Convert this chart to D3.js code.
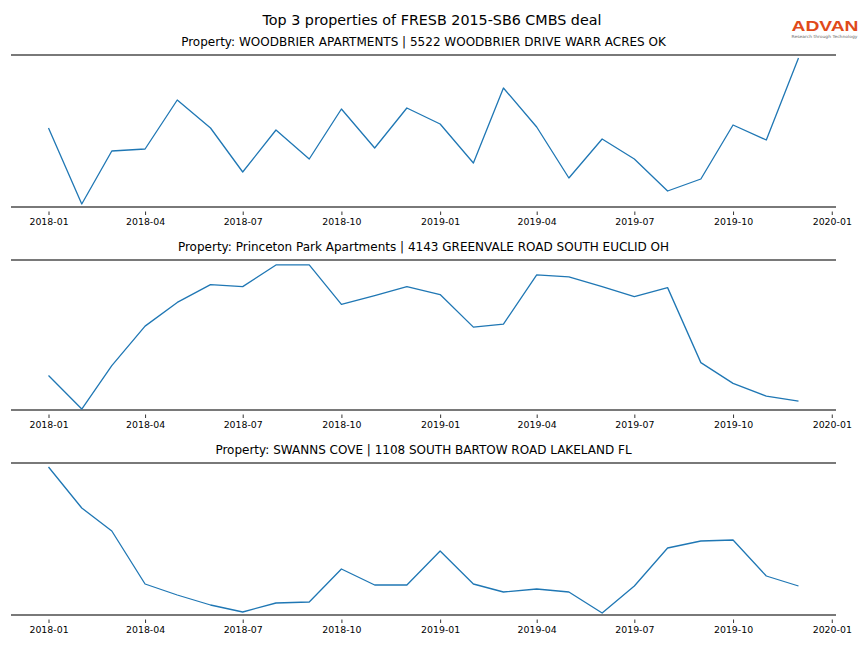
<!DOCTYPE html>
<html>
<head>
<meta charset="utf-8">
<script src="https://cdn.jsdelivr.net/npm/d3@7"></script>
<style>
  html, body { margin: 0; padding: 0; background: #fff; }
  svg { display: block; font-family: "DejaVu Sans", sans-serif; }
</style>
</head>
<body>
<svg id="chart" width="864" height="648"></svg>
<script>
const chartTitle = "Top 3 properties of FRESB 2015-SB6 CMBS deal";
const months = ["2018-01","2018-02","2018-03","2018-04","2018-05","2018-06","2018-07","2018-08","2018-09","2018-10","2018-11","2018-12",
                "2019-01","2019-02","2019-03","2019-04","2019-05","2019-06","2019-07","2019-08","2019-09","2019-10","2019-11","2019-12"];
const propertyNames = [
  "Property: WOODBRIER APARTMENTS | 5522 WOODBRIER DRIVE WARR ACRES OK",
  "Property: Princeton Park Apartments | 4143 GREENVALE ROAD SOUTH EUCLID OH",
  "Property: SWANNS COVE | 1108 SOUTH BARTOW ROAD LAKELAND FL"
];
const woodbrier = [79, 3, 56, 58, 107, 79, 35, 77, 48, 98, 59, 99, 83, 44, 119, 80, 29, 68, 48, 16, 28, 82, 67, 149];
const princeton = [35, 1, 45, 85, 109, 127, 125, 147, 147, 107, 116, 125, 117, 84, 87, 137, 135, 125, 115, 124, 48, 27, 14, 9];
const swanns = [148, 107, 84, 31, 20, 10, 3, 12, 13, 46, 30, 30, 64, 31, 23, 26, 23, 2, 29, 67, 74, 75, 39, 29];
const tickLabels = ["2018-01","2018-04","2018-07","2018-10","2019-01","2019-04","2019-07","2019-10","2020-01"];

const seriesList = [woodbrier, princeton, swanns];
const parse = d3.timeParse("%Y-%m");
const svg = d3.select("#chart");

const left = 11, right = 836;
const panels = [{top: 55, bottom: 207}, {top: 260, bottom: 410}, {top: 463, bottom: 615}];

// x domain with 5% margins like matplotlib
const d0 = parse(months[0]), d1 = parse(months[months.length - 1]);
const span = d1 - d0;
const x = d3.scaleTime()
  .domain([new Date(+d0 - span * 0.05), new Date(+d1 + span * 0.05)])
  .range([left, right]);

svg.append("text")
  .attr("x", 432).attr("y", 24.5)
  .attr("text-anchor", "middle")
  .attr("font-size", 14.3)
  .attr("fill", "#000")
  .text(chartTitle);

// logo
const logo = svg.append("g");
logo.append("text")
  .attr("x", 825).attr("y", 31)
  .attr("text-anchor", "middle")
  .attr("font-size", 15.5)
  .attr("font-weight", "bold")
  .attr("font-family", "Liberation Sans, Arial, sans-serif")
  .attr("fill", "#e04a1a")
  .attr("textLength", 67)
  .attr("lengthAdjust", "spacingAndGlyphs")
  .text("ADVAN");
logo.append("text")
  .attr("x", 824.5).attr("y", 38.3)
  .attr("text-anchor", "middle")
  .attr("font-size", 4.2)
  .attr("fill", "#666")
  .attr("textLength", 66)
  .attr("lengthAdjust", "spacingAndGlyphs")
  .text("Research through Technology");

seriesList.forEach((vals, i) => {
  const p = panels[i];
  const g = svg.append("g");
  const y = d3.scaleLinear().domain([0, 152]).range([p.bottom, p.top]);

  g.append("text")
    .attr("x", (left + right) / 2).attr("y", p.top - 9)
    .attr("text-anchor", "middle")
    .attr("font-size", 12)
    .attr("fill", "#000")
    .text(propertyNames[i]);

  // spines
  g.append("line").attr("x1", left).attr("x2", right).attr("y1", p.top).attr("y2", p.top)
    .attr("stroke", "#4d4d4d").attr("stroke-width", 1.6);
  g.append("line").attr("x1", left).attr("x2", right).attr("y1", p.bottom).attr("y2", p.bottom)
    .attr("stroke", "#4d4d4d").attr("stroke-width", 1.6);

  // x axis
  const axis = d3.axisBottom(x)
    .tickValues(tickLabels.map(parse))
    .tickFormat(d3.timeFormat("%Y-%m"))
    .tickSize(3.5)
    .tickPadding(3);
  const ag = g.append("g").attr("transform", `translate(0,${p.bottom + 4.5})`).call(axis);
  ag.select(".domain").remove();
  ag.selectAll(".tick line").attr("stroke", "#000").attr("stroke-width", 0.8);
  ag.selectAll(".tick text").attr("font-size", 9.4).attr("fill", "#000")
    .attr("font-family", "DejaVu Sans, sans-serif");

  const line = d3.line()
    .x((d, j) => x(parse(months[j])))
    .y(d => y(d));
  g.append("path").datum(vals)
    .attr("d", line)
    .attr("fill", "none")
    .attr("stroke", "#1f77b4")
    .attr("stroke-width", 1.3)
    .attr("stroke-linejoin", "round");
});
</script>
</body>
</html>
